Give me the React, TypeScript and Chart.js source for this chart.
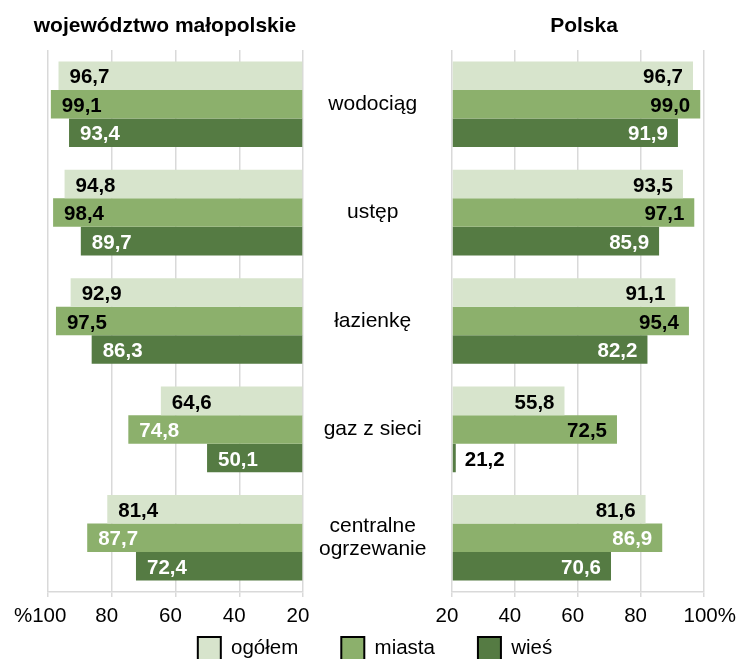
import React, { useEffect, useRef } from 'react';
import { Chart, registerables } from 'chart.js';

Chart.register(...registerables);

const FONT = "'Liberation Sans', Arial, sans-serif";

const categories: (string | string[])[] = ['wodociąg', 'ustęp', 'łazienkę', 'gaz z sieci', ['centralne', 'ogrzewanie']];
const seriesNames = ['ogółem', 'miasta', 'wieś'];

const malOgolem = [96.7, 94.8, 92.9, 64.6, 81.4];
const malMiasta = [99.1, 98.4, 97.5, 74.8, 87.7];
const malWies = [93.4, 89.7, 86.3, 50.1, 72.4];

const plOgolem = [96.7, 93.5, 91.1, 55.8, 81.6];
const plMiasta = [99.0, 97.1, 95.4, 72.5, 86.9];
const plWies = [91.9, 85.9, 82.2, 21.2, 70.6];

const axisMin = 20;
const axisMax = 100;
const axisStep = 20;

const leftTitle = 'województwo małopolskie';
const rightTitle = 'Polska';

// styles
const seriesColors = ['#D7E4CC', '#8CB06C', '#557B43'];
const B = '#000000';
const W = '#FFFFFF';
const malLabelColors = [
  [B, B, B, B, B],
  [B, B, B, W, W],
  [W, W, W, W, W],
];
const plLabelColors = [
  [B, B, B, B, B],
  [B, B, B, B, W],
  [W, W, W, B, W],
];

const fmt = (v: number) => v.toFixed(1).replace('.', ',');

const valueLabels = {
  id: 'valueLabels',
  afterDatasetsDraw(chart: any) {
    const { ctx } = chart;
    chart.data.datasets.forEach((ds: any, di: number) => {
      const meta = chart.getDatasetMeta(di);
      meta.data.forEach((bar: any, i: number) => {
        const v = ds.data[i] as number;
        const text = fmt(v);
        ctx.save();
        ctx.font = `bold 20.5px ${FONT}`;
        const w = ctx.measureText(text).width;
        const dir = bar.x >= bar.base ? 1 : -1;
        const len = Math.abs(bar.x - bar.base);
        let x: number;
        let align: CanvasTextAlign;
        if (len > w + 20) {
          align = dir > 0 ? 'right' : 'left';
          x = bar.x - dir * (dir > 0 ? 10 : 11);
        } else {
          align = dir > 0 ? 'left' : 'right';
          x = bar.x + dir * 9;
        }
        ctx.textAlign = align;
        ctx.textBaseline = 'middle';
        ctx.fillStyle = ds.labelColors[i];
        ctx.fillText(text, x, bar.y + 2);
        ctx.restore();
      });
    });
  },
};

// moves the legend up so that it sits close under the axis labels
const legendShift = {
  id: 'legendShift',
  beforeDraw(chart: any) {
    const lg = chart.legend;
    if (lg && lg.options.display) {
      lg.top -= 39;
      lg.bottom -= 39;
    }
  },
};

const gridColor = '#D9D9D9';

function xScale(reverse: boolean, edgeLabel: string) {
  return {
    type: 'linear' as const,
    reverse,
    min: axisMin,
    max: axisMax,
    afterFit: (s: any) => {
      s.height = 41;
    },
    ticks: {
      stepSize: axisStep,
      autoSkip: false,
      maxRotation: 0,
      minRotation: 0,
      padding: 7,
      labelOffset: -5,
      color: '#000',
      font: { family: FONT, size: 20.5 },
      callback: (v: any) => (Number(v) === axisMax ? edgeLabel : String(v)),
    },
    grid: { color: gridColor, lineWidth: 1.5, tickLength: 5, drawTicks: true },
    border: { display: true, color: gridColor, width: 1.5 },
  };
}

function makeDatasets(values: number[][], labelColors: string[][]) {
  return values.map((data, k) => ({
    label: seriesNames[k],
    data,
    base: axisMin,
    backgroundColor: seriesColors[k],
    borderWidth: 0,
    barPercentage: 1,
    categoryPercentage: 0.79,
    labelColors: labelColors[k],
  }));
}

export default function App() {
  const leftRef = useRef<HTMLCanvasElement>(null);
  const rightRef = useRef<HTMLCanvasElement>(null);

  useEffect(() => {
    const left = new Chart(leftRef.current as HTMLCanvasElement, {
      type: 'bar',
      data: {
        labels: categories as any,
        datasets: makeDatasets([malOgolem, malMiasta, malWies], malLabelColors) as any,
      },
      options: {
        indexAxis: 'y',
        responsive: false,
        animation: false,
        events: [],
        layout: { padding: { left: 48, right: 46, top: 50, bottom: 11 } },
        scales: {
          x: xScale(true, '%100 ') as any,
          y: {
            position: 'right',
            afterFit: (s: any) => {
              s.width = 399;
            },
            grid: { display: false, drawTicks: false },
            border: { display: false },
            ticks: {
              autoSkip: false,
              crossAlign: 'center',
              padding: 16,
              color: '#000',
              font: { family: FONT, size: 21, lineHeight: 1.08 },
            },
          },
        },
        plugins: {
          tooltip: { enabled: false },
          legend: {
            position: 'bottom',
            labels: {
              boxWidth: 23,
              boxHeight: 23,
              padding: 43,
              color: '#000',
              font: { family: FONT, size: 20.5 },
              generateLabels: (chart: any) =>
                (Chart.defaults.plugins.legend.labels as any)
                  .generateLabels(chart)
                  .map((l: any) => ({ ...l, strokeStyle: '#000', lineWidth: 2 })),
            },
          },
        },
      },
      plugins: [valueLabels, legendShift],
    });

    const right = new Chart(rightRef.current as HTMLCanvasElement, {
      type: 'bar',
      data: {
        labels: categories as any,
        datasets: makeDatasets([plOgolem, plMiasta, plWies], plLabelColors) as any,
      },
      options: {
        indexAxis: 'y',
        responsive: false,
        animation: false,
        events: [],
        layout: { padding: { left: 452, right: 36, top: 50, bottom: 87 } },
        scales: {
          x: xScale(false, '    100%') as any,
          y: { display: false },
        },
        plugins: {
          tooltip: { enabled: false },
          legend: { display: false },
        },
      },
      plugins: [valueLabels],
    });

    return () => {
      left.destroy();
      right.destroy();
    };
  }, []);

  const titleStyle: React.CSSProperties = {
    position: 'absolute',
    top: 13,
    height: 24,
    lineHeight: '24px',
    textAlign: 'center',
    fontWeight: 'bold',
    fontSize: 21,
    fontFamily: FONT,
    color: '#000',
    whiteSpace: 'nowrap',
  };

  return (
    <div
      style={{
        position: 'absolute',
        left: 0,
        top: 0,
        width: 748,
        height: 659,
        overflow: 'hidden',
        background: '#fff',
      }}
    >
      <canvas ref={leftRef} width={748} height={720} style={{ position: 'absolute', left: 0, top: 0 }} />
      <canvas ref={rightRef} width={748} height={720} style={{ position: 'absolute', left: 0, top: 0 }} />
      <div style={{ ...titleStyle, left: 0, width: 330 }}>{leftTitle}</div>
      <div style={{ ...titleStyle, left: 484, width: 200 }}>{rightTitle}</div>
    </div>
  );
}
